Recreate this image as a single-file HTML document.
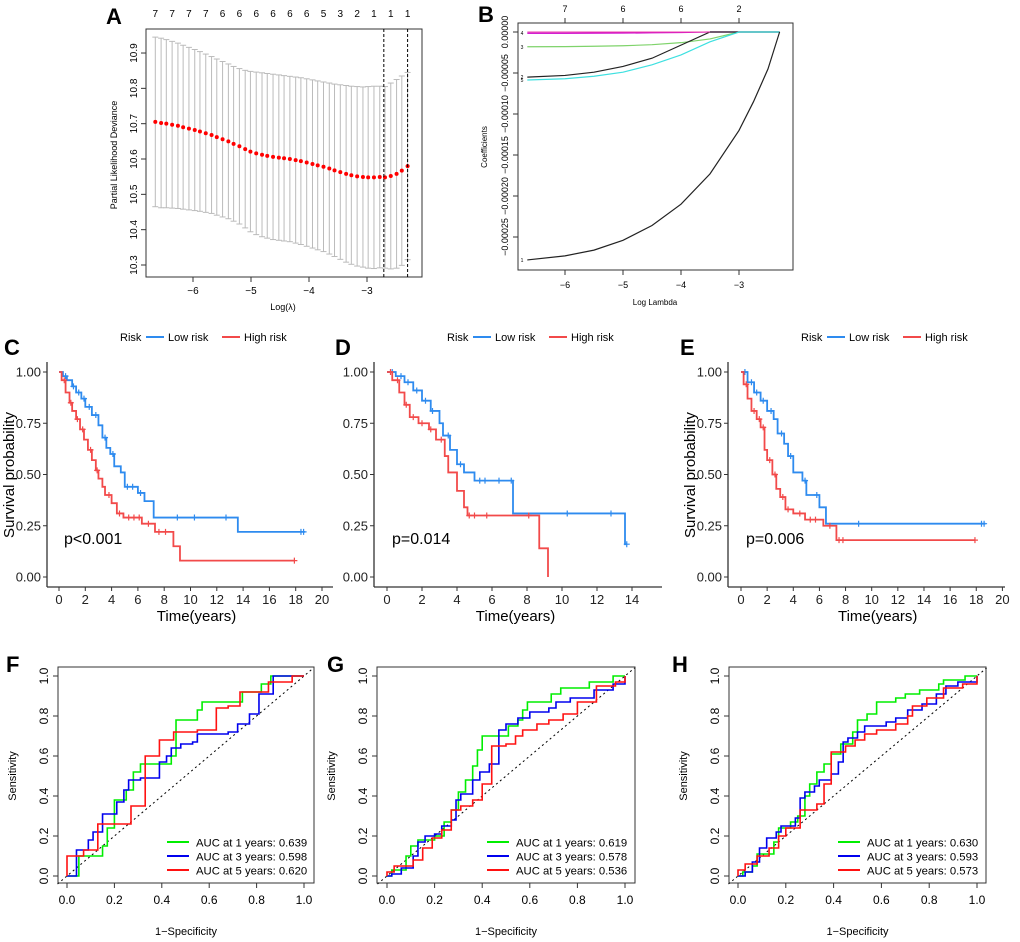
<!DOCTYPE html>
<html><head><meta charset="utf-8"><style>
html,body{margin:0;padding:0;background:#fff}
svg{display:block;font-family:"Liberation Sans",Arial,sans-serif}
</style></head><body>
<svg id="fig" width="1020" height="942" viewBox="0 0 1020 942" xmlns="http://www.w3.org/2000/svg"></svg>
<script>
// ---------- Panel A data ----------
const aLambda=[-6.65,-6.55,-6.46,-6.36,-6.26,-6.17,-6.07,-5.97,-5.88,-5.78,-5.68,-5.59,-5.49,-5.39,-5.30,-5.20,-5.10,-5.01,-4.91,-4.81,-4.72,-4.62,-4.52,-4.43,-4.33,-4.23,-4.14,-4.04,-3.94,-3.85,-3.75,-3.65,-3.56,-3.46,-3.36,-3.27,-3.17,-3.07,-2.98,-2.88,-2.78,-2.69,-2.59,-2.49,-2.40,-2.30];
const aMean=[10.705,10.702,10.700,10.697,10.694,10.690,10.686,10.682,10.678,10.673,10.668,10.662,10.656,10.650,10.643,10.636,10.628,10.621,10.616,10.612,10.609,10.606,10.604,10.602,10.600,10.597,10.594,10.590,10.586,10.582,10.578,10.573,10.568,10.563,10.558,10.554,10.551,10.549,10.548,10.548,10.549,10.548,10.552,10.558,10.567,10.580];
const aSE=[0.240,0.240,0.238,0.236,0.234,0.232,0.230,0.228,0.226,0.224,0.222,0.221,0.220,0.219,0.219,0.220,0.223,0.227,0.230,0.232,0.233,0.234,0.234,0.234,0.234,0.235,0.236,0.237,0.238,0.239,0.240,0.242,0.244,0.247,0.250,0.252,0.254,0.255,0.257,0.258,0.257,0.257,0.263,0.267,0.268,0.265];
const aNZ=[7,7,7,7,6,6,6,6,6,6,5,3,2,1,1,1];
const aVLines=[-2.71,-2.30];
const aYTicks=[10.3,10.4,10.5,10.6,10.7,10.8,10.9];
const aXTicks=[-6,-5,-4,-3];
// ---------- Panel B data (coefficients in units of 1e-5) ----------
const bLambda=[-6.65,-6,-5.5,-5,-4.5,-4,-3.5,-3,-2.75,-2.5,-2.3];
const bC1=[-27.8,-27.3,-26.6,-25.4,-23.6,-21.0,-17.3,-12.0,-8.5,-4.5,0];
const bC2=[-5.5,-5.3,-4.9,-4.2,-3.2,-1.6,0,0,0,0,0];
const bC3=[-1.8,-1.78,-1.74,-1.68,-1.55,-1.3,-0.85,0,0,0,0];
const bC4=[-0.15,-0.15,-0.14,-0.13,-0.1,-0.06,0,0,0,0,0];
const bC5=[-5.85,-5.7,-5.4,-4.9,-4.0,-2.8,-1.2,0,0,0,0];
const bYTicks=[0,-5,-10,-15,-20,-25];
const bXTicks=[-6,-5,-4,-3];
const bTop=[7,6,6,2];
// ---------- KM data ----------
const cLowT=[0,0.3,0.6,1,1.3,1.7,2,2.5,3,3.3,3.6,3.9,4.2,4.7,5,6,6.5,7.2,13.6,18.7];
const cLowS=[1,0.98,0.96,0.93,0.9,0.87,0.83,0.79,0.74,0.68,0.63,0.6,0.54,0.51,0.44,0.41,0.37,0.29,0.22,0.22];
const cLowCens=[0.5,1.1,1.5,1.9,2.3,2.8,3.5,4.1,5.2,5.6,6.2,9,10.3,12.7,18.4,18.6];
const cHighT=[0,0.2,0.5,0.8,1,1.3,1.6,1.9,2.2,2.5,2.8,3,3.3,3.5,4,4.4,4.9,6.3,7.3,8.7,9.2,17.9];
const cHighS=[1,0.96,0.9,0.85,0.81,0.77,0.72,0.67,0.62,0.57,0.52,0.48,0.44,0.40,0.36,0.31,0.29,0.26,0.22,0.15,0.08,0.08];
const cHighCens=[0.4,0.9,1.4,1.8,2.4,2.9,3.8,4.6,5.3,5.7,6.1,6.8,7.6,8.1,17.9];
const dLowT=[0,0.5,1,1.5,2,2.5,3,3.2,3.6,4,4.4,5,7.2,13.6,13.7];
const dLowS=[1,0.98,0.95,0.91,0.86,0.81,0.75,0.69,0.62,0.55,0.51,0.47,0.31,0.16,0.16];
const dLowCens=[0.3,0.8,1.2,1.7,2.2,2.6,3.5,4.2,5.3,5.6,6.4,7.1,10.3,12.8,13.7];
const dHighT=[0,0.3,0.7,1,1.3,1.8,2.4,2.8,3.3,3.5,4,4.4,4.6,8.7,9.2];
const dHighS=[1,0.96,0.9,0.84,0.78,0.75,0.72,0.67,0.59,0.51,0.42,0.34,0.30,0.14,0.0];
const dHighCens=[0.2,0.6,1.1,1.5,2.0,2.5,3.1,4.7,5.0,5.7,8.1];
const eLowT=[0,0.5,1,1.5,2,2.5,2.8,3.3,3.6,4,4.7,5,6,6.5,18.7];
const eLowS=[1,0.95,0.9,0.86,0.81,0.77,0.7,0.65,0.59,0.51,0.47,0.40,0.34,0.26,0.26];
const eLowCens=[0.3,0.8,1.2,1.7,2.3,3.1,3.8,4.9,5.8,9,18.4,18.6];
const eHighT=[0,0.2,0.5,0.8,1.2,1.5,1.8,2,2.4,2.7,3,3.4,4,4.9,6.3,7.3,17.9];
const eHighS=[1,0.94,0.87,0.81,0.77,0.73,0.62,0.57,0.50,0.43,0.39,0.33,0.31,0.28,0.25,0.18,0.18];
const eHighCens=[0.4,1.0,1.4,1.7,2.2,2.6,3.2,3.6,4.5,5.3,5.7,6.8,7.5,7.8,17.9];
// ---------- ROC data ----------
const fGreen=[[0,0],[0.05,0.1],[0.15,0.15],[0.17,0.24],[0.2,0.38],[0.25,0.43],[0.28,0.52],[0.31,0.56],[0.44,0.6],[0.46,0.78],[0.55,0.83],[0.57,0.87],[0.74,0.92],[0.82,0.96],[0.86,1],[1,1]];
const fBlue=[[0,0],[0.04,0.13],[0.09,0.18],[0.11,0.22],[0.15,0.31],[0.21,0.37],[0.24,0.43],[0.26,0.48],[0.31,0.49],[0.39,0.57],[0.42,0.6],[0.44,0.64],[0.48,0.66],[0.53,0.67],[0.55,0.71],[0.68,0.72],[0.72,0.76],[0.77,0.81],[0.81,0.91],[0.87,1],[1,1]];
const fRed=[[0,0],[0,0.1],[0.07,0.13],[0.13,0.26],[0.27,0.35],[0.33,0.6],[0.39,0.68],[0.45,0.72],[0.55,0.73],[0.63,0.84],[0.68,0.85],[0.73,0.92],[0.85,0.97],[0.95,1],[1,1]];
const gGreen=[[0,0],[0.02,0.03],[0.08,0.1],[0.1,0.15],[0.13,0.18],[0.2,0.2],[0.24,0.27],[0.27,0.33],[0.3,0.42],[0.33,0.48],[0.36,0.55],[0.38,0.63],[0.4,0.7],[0.51,0.75],[0.55,0.78],[0.57,0.83],[0.59,0.87],[0.69,0.91],[0.73,0.94],[0.85,0.97],[0.95,1],[1,1]];
const gBlue=[[0,0],[0.02,0.01],[0.06,0.04],[0.11,0.1],[0.13,0.17],[0.16,0.2],[0.2,0.21],[0.23,0.25],[0.27,0.28],[0.29,0.38],[0.31,0.41],[0.36,0.48],[0.39,0.52],[0.43,0.56],[0.47,0.73],[0.5,0.76],[0.55,0.79],[0.6,0.82],[0.68,0.84],[0.71,0.87],[0.77,0.89],[0.87,0.93],[0.95,0.96],[1,1]];
const gRed=[[0,0],[0,0.02],[0.03,0.05],[0.11,0.08],[0.15,0.14],[0.19,0.19],[0.23,0.23],[0.27,0.33],[0.31,0.35],[0.36,0.38],[0.4,0.46],[0.44,0.65],[0.5,0.66],[0.54,0.7],[0.57,0.73],[0.63,0.76],[0.68,0.78],[0.74,0.81],[0.8,0.87],[0.88,0.95],[0.96,0.97],[1,1]];
const hGreen=[[0,0],[0.02,0.02],[0.06,0.05],[0.08,0.11],[0.15,0.17],[0.17,0.24],[0.22,0.27],[0.25,0.3],[0.28,0.4],[0.3,0.46],[0.33,0.52],[0.36,0.56],[0.39,0.61],[0.43,0.66],[0.48,0.72],[0.5,0.78],[0.54,0.81],[0.58,0.87],[0.66,0.89],[0.7,0.91],[0.76,0.93],[0.84,0.96],[0.86,0.98],[0.95,1],[1,1]];
const hBlue=[[0,0],[0.03,0.02],[0.06,0.07],[0.09,0.14],[0.12,0.19],[0.16,0.22],[0.18,0.25],[0.24,0.29],[0.26,0.39],[0.28,0.42],[0.32,0.45],[0.34,0.48],[0.39,0.51],[0.42,0.57],[0.44,0.67],[0.46,0.69],[0.5,0.72],[0.53,0.75],[0.62,0.77],[0.66,0.79],[0.71,0.83],[0.77,0.86],[0.83,0.91],[0.87,0.95],[0.92,0.97],[1,1]];
const hRed=[[0,0],[0,0.03],[0.03,0.06],[0.08,0.1],[0.13,0.14],[0.17,0.2],[0.2,0.24],[0.26,0.33],[0.33,0.36],[0.36,0.46],[0.39,0.62],[0.45,0.65],[0.49,0.68],[0.53,0.71],[0.58,0.73],[0.66,0.76],[0.71,0.8],[0.73,0.85],[0.79,0.89],[0.86,0.94],[0.94,0.96],[1,1]];
const fAUC=["0.639","0.598","0.620"];
const gAUC=["0.619","0.578","0.536"];
const hAUC=["0.630","0.593","0.573"];
const rocTicks=[0,0.2,0.4,0.6,0.8,1.0];
const kmYTicks=[0,0.25,0.5,0.75,1];

const NS="http://www.w3.org/2000/svg";
const svg=document.getElementById('fig');
function el(tag,attrs,name,parent){
  const e=document.createElementNS(NS,tag);
  for(const k in attrs) e.setAttribute(k,attrs[k]);
  
  
  (parent||svg).appendChild(e);
  return e;
}
function txt(x,y,s,size,name,extra){
  const a=Object.assign({x:x,y:y,'font-size':size,fill:'#000'},extra||{});
  const t=el('text',a,name);
  t.textContent=s;
  return t;
}
function line(x1,y1,x2,y2,stroke,w,name,extra){
  return el('line',Object.assign({x1:x1,y1:y1,x2:x2,y2:y2,stroke:stroke,'stroke-width':w},extra||{}),name);
}

// ===== Panel A =====
(function(){
  const xA=v=>193+(v+6)*58, yA=v=>265-(v-10.3)/0.1*35.33;
  txt(106,24,'A',22,'panel-label-a',{'font-weight':'bold'});
  el('rect',{x:146,y:29,width:276,height:248,fill:'none',stroke:'#333','stroke-width':1},'plot-frame-a');
  aLambda.forEach((l,i)=>{
    const x=xA(l),lo=yA(aMean[i]-aSE[i]),hi=yA(aMean[i]+aSE[i]);
    line(x,lo,x,hi,'#bbb',1,'error-bar');
    line(x-3,lo,x+3,lo,'#bbb',1,'error-cap');
    line(x-3,hi,x+3,hi,'#bbb',1,'error-cap');
  });
  aLambda.forEach((l,i)=>{ el('circle',{cx:xA(l),cy:yA(aMean[i]),r:2,fill:'#f00'},'deviance-point'); });
  aVLines.forEach(v=>line(xA(v),29,xA(v),277,'#000',1,'lambda-dashed-line',{'stroke-dasharray':'3,2'}));
  aYTicks.forEach(v=>{ const y=yA(v); line(141,y,146,y,'#333',1,'y-tick');
    txt(137,y,v.toFixed(1),10,'y-tick-label',{transform:`rotate(-90 137 ${y})`,'text-anchor':'middle'}); });
  aXTicks.forEach(v=>{ const x=xA(v); line(x,277,x,282,'#333',1,'x-tick');
    txt(x,294,'\u2212'+Math.abs(v),10,'x-tick-label',{'text-anchor':'middle'}); });
  aNZ.forEach((n,i)=>{ txt(xA(aLambda[i*3]),17,String(n),10,'top-count-label',{'text-anchor':'middle'}); });
  txt(283,310,'Log(\u03bb)',9,'x-axis-title-a',{'text-anchor':'middle'});
  txt(117,155,'Partial Likelihood Deviance',9,'y-axis-title-a',{transform:'rotate(-90 117 155)','text-anchor':'middle'});
})();

// ===== Panel B =====
(function(){
  const xB=v=>565+(v+6)*58, yB=c=>32-c/5*41;
  txt(478,22,'B',22,'panel-label-b',{'font-weight':'bold'});
  el('rect',{x:518,y:23,width:275,height:247,fill:'none',stroke:'#333','stroke-width':1},'plot-frame-b');
  const series=[[bC4,'#c0c','4'],[bC3,'#7fd36b','3'],[bC2,'#222','2'],[bC5,'#3ee0e0','5'],[bC1,'#222','1']];
  series.forEach(s=>{
    const pts=bLambda.map((l,i)=>xB(l)+','+yB(s[0][i])).join(' ');
    el('polyline',{points:pts,fill:'none',stroke:s[1],'stroke-width':1.2},'coef-path-'+s[2]);
    txt(522,yB(s[0][0])+2,s[2],5,'coef-label',{'text-anchor':'middle'});
  });
  line(xB(-6.65),yB(0),xB(-3.5),yB(0),'#e4a','1','coef-path-6');
  bYTicks.forEach(v=>{ const y=yB(v); line(513,y,518,y,'#333',1,'y-tick');
    const s=v===0?'0.00000':'\u22120.000'+String(Math.abs(v)).padStart(2,'0');
    txt(508,y,s,9,'y-tick-label',{transform:`rotate(-90 508 ${y})`,'text-anchor':'middle'}); });
  bXTicks.forEach((v,i)=>{ const x=xB(v); line(x,270,x,275,'#333',1,'x-tick');
    txt(x,288,'\u2212'+Math.abs(v),9,'x-tick-label',{'text-anchor':'middle'});
    line(x,18,x,23,'#333',1,'top-tick');
    txt(x,12,String(bTop[i]),9,'top-count-label',{'text-anchor':'middle'}); });
  txt(655,305,'Log Lambda',8,'x-axis-title-b',{'text-anchor':'middle'});
  txt(487,147,'Coefficients',8,'y-axis-title-b',{transform:'rotate(-90 487 147)','text-anchor':'middle'});
})();

// ===== KM panels =====
function km(o){
  const xK=t=>o.x0+t*o.pxPerYr, yK=s=>577-s*205;
  txt(o.lx,355,o.label,22,'panel-label-'+o.label.toLowerCase(),{'font-weight':'bold'});
  txt(o.legX,341,'Risk',11,'legend-title');
  line(o.legX+26,337,o.legX+44,337,'#2E8BEF',2,'legend-low-line');
  txt(o.legX+48,341,'Low risk',11,'legend-low-label');
  line(o.legX+102,337,o.legX+120,337,'#F24A4A',2,'legend-high-line');
  txt(o.legX+124,341,'High risk',11,'legend-high-label');
  line(o.axL,362,o.axL,587,'#333',1.3,'y-axis-line');
  line(o.axL,587,o.axR,587,'#333',1.3,'x-axis-line');
  kmYTicks.forEach(v=>{ const y=yK(v); line(o.axL-4,y,o.axL,y,'#333',1,'y-tick');
    txt(o.axL-6,y+4.5,v.toFixed(2),13,'y-tick-label',{'text-anchor':'end',fill:'#222'}); });
  for(let t=0;t<=o.xmax;t+=2){ const x=xK(t); line(x,587,x,591,'#333',1,'x-tick');
    txt(x,604,String(t),13,'x-tick-label',{'text-anchor':'middle',fill:'#222'}); }
  if(o.ytitle) txt(o.axL-33,475,'Survival probability',15,'y-axis-title',{transform:`rotate(-90 ${o.axL-33} 475)`,'text-anchor':'middle'});
  txt(o.x0+o.pxPerYr*o.xmax/2+6,621,'Time(years)',15,'x-axis-title',{'text-anchor':'middle'});
  const curves=[[o.lowT,o.lowS,o.lowC,'#2E8BEF','low-risk'],[o.highT,o.highS,o.highC,'#F24A4A','high-risk']];
  curves.forEach(c=>{
    const T=c[0],S=c[1];
    let d='M'+xK(T[0])+','+yK(S[0]);
    for(let i=1;i<T.length;i++){ d+=' H'+xK(T[i])+' V'+yK(S[i]); }
    el('path',{d:d,fill:'none',stroke:c[3],'stroke-width':1.8},c[4]+'-curve');
    c[2].forEach(t=>{ let s=S[0]; for(let i=0;i<T.length;i++){ if(T[i]<=t) s=S[i]; }
      const x=xK(t),y=yK(s);
      el('path',{d:`M${x-3},${y}H${x+3}M${x},${y-3}V${y+3}`,stroke:c[3],'stroke-width':1.2},c[4]+'-censor-mark'); });
  });
  txt(o.x0+5,544,o.p,16,'p-value-label');
}
km({label:'C',lx:4,legX:120,axL:47,axR:333,x0:59,pxPerYr:13.15,xmax:20,ytitle:true,p:'p<0.001',
  lowT:cLowT,lowS:cLowS,lowC:cLowCens,highT:cHighT,highS:cHighS,highC:cHighCens});
km({label:'D',lx:335,legX:447,axL:374,axR:662,x0:387,pxPerYr:17.5,xmax:14,ytitle:false,p:'p=0.014',
  lowT:dLowT,lowS:dLowS,lowC:dLowCens,highT:dHighT,highS:dHighS,highC:dHighCens});
km({label:'E',lx:680,legX:801,axL:728,axR:1005,x0:741,pxPerYr:13.07,xmax:20,ytitle:true,p:'p=0.006',
  lowT:eLowT,lowS:eLowS,lowC:eLowCens,highT:eHighT,highS:eHighS,highC:eHighCens});

// ===== ROC panels =====
function roc(o){
  const xR=v=>o.x0+v*(o.x1-o.x0), yR=v=>876-v*200;
  txt(o.lx,672,o.label,22,'panel-label-'+o.label.toLowerCase(),{'font-weight':'bold'});
  el('rect',{x:o.bx,y:667,width:o.bw,height:216,fill:'none',stroke:'#333','stroke-width':1},'plot-frame');
  rocTicks.forEach(v=>{ const x=xR(v); line(x,883,x,888,'#333',1,'x-tick');
    txt(x,904,v.toFixed(1),12,'x-tick-label',{'text-anchor':'middle'});
    const y=yR(v); line(o.bx-5,y,o.bx,y,'#333',1,'y-tick');
    txt(o.bx-10,y,v.toFixed(1),12,'y-tick-label',{transform:`rotate(-90 ${o.bx-10} ${y})`,'text-anchor':'middle'}); });
  txt(o.bx-42,776,'Sensitivity',11,'y-axis-title',{transform:`rotate(-90 ${o.bx-42} 776)`,'text-anchor':'middle'});
  txt((o.bx*2+o.bw)/2,935,'1\u2212Specificity',11,'x-axis-title',{'text-anchor':'middle'});
  line(xR(-0.04),yR(-0.04),xR(1.04),yR(1.04),'#000',1,'reference-diagonal',{'stroke-dasharray':'2,3'});
  const cs=[[o.g,'#00ee00','auc-1-year'],[o.b,'#0000ee','auc-3-year'],[o.r,'#ff1111','auc-5-year']];
  cs.forEach(c=>{ const P=c[0]; let d='M'+xR(P[0][0])+','+yR(P[0][1]);
    for(let i=1;i<P.length;i++){ d+=' H'+xR(P[i][0])+' V'+yR(P[i][1]); }
    el('path',{d:d,fill:'none',stroke:c[1],'stroke-width':1.6},c[2]+'-curve'); });
  const yrs=[1,3,5];
  cs.forEach((c,i)=>{ const y=842+i*14;
    line(o.legX,y,o.legX+22,y,c[1],2,'legend-line-'+c[2]);
    txt(o.legX+29,y+4.5,'AUC at '+yrs[i]+' years: '+o.auc[i],11.3,'legend-label-'+c[2]); });
}
roc({label:'F',lx:6,bx:58,bw:256,x0:67,x1:304,legX:167,g:fGreen,b:fBlue,r:fRed,auc:fAUC});
roc({label:'G',lx:327,bx:377,bw:258,x0:387,x1:625,legX:487,g:gGreen,b:gBlue,r:gRed,auc:gAUC});
roc({label:'H',lx:672,bx:729,bw:257,x0:738,x1:977,legX:838,g:hGreen,b:hBlue,r:hRed,auc:hAUC});
</script>
</body></html>
